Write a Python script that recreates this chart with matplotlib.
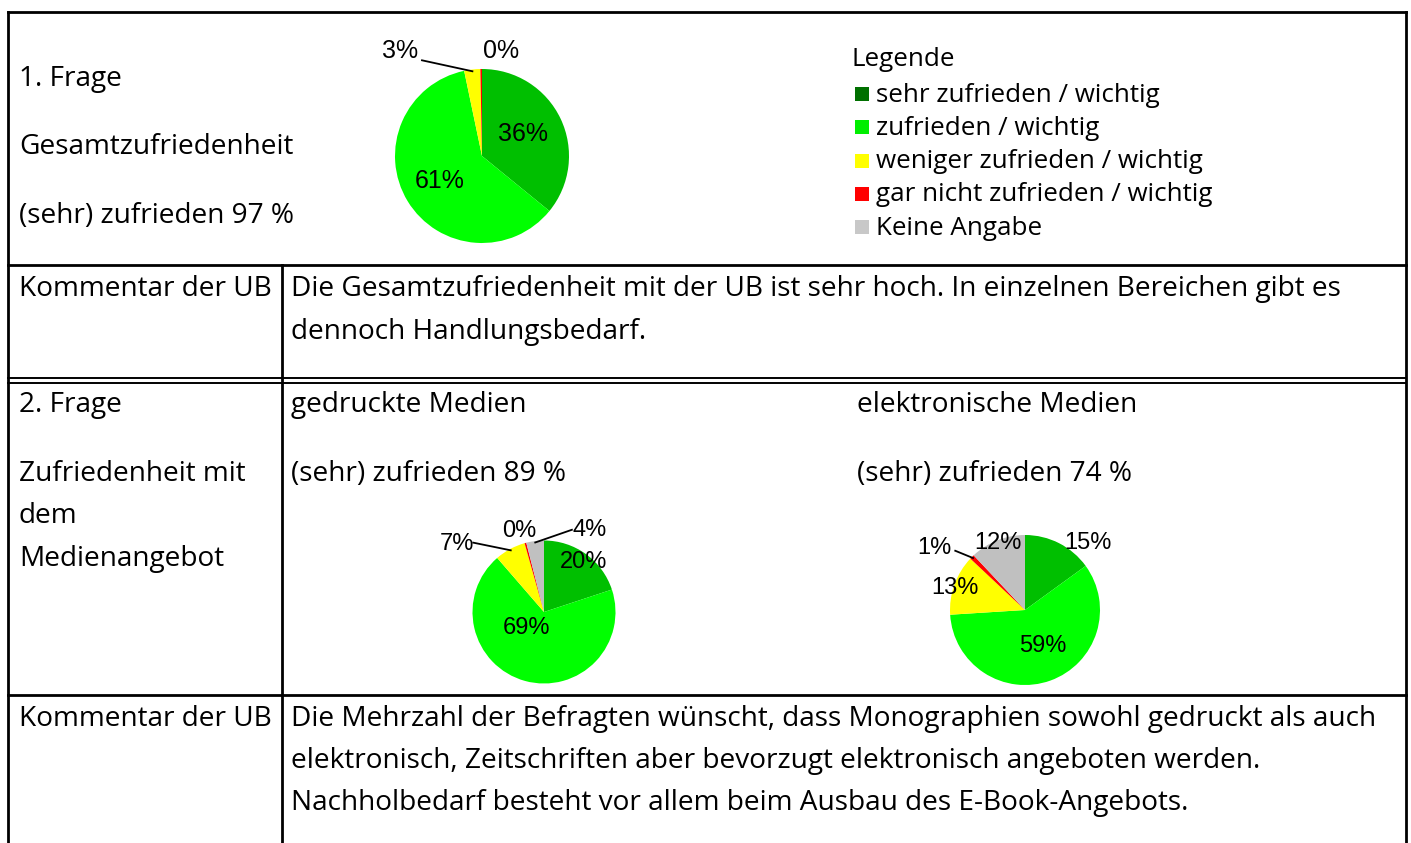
import numpy as np
import matplotlib
matplotlib.use('Agg')
import matplotlib.pyplot as plt

# Daten
kategorien = ['sehr zufrieden / wichtig', 'zufrieden / wichtig', 'weniger zufrieden / wichtig',
              'gar nicht zufrieden / wichtig', 'Keine Angabe']
farben = ['#00bf00', '#00ff00', '#ffff00', '#ff0000', '#c0c0c0']
legende_farben = ['#007000', '#00ee00', '#ffff00', '#ff0000', '#c8c8c8']

gesamt = [36, 61, 3, 0.3]
gedruckt = [20, 69, 7, 0.4, 4]
elektronisch = [15, 59, 13, 1, 12]

W, H = 1411, 843
fig = plt.figure(figsize=(W / 100, H / 100), dpi=100)
ax = fig.add_axes([0, 0, 1, 1])
ax.set_xlim(0, W)
ax.set_ylim(H, 0)
ax.axis('off')

schrift = 'Open Sans'
gr = 20.2
lw = 2.0

# Tabellenlinien
ax.plot([8, 1406], [12, 12], color='black', lw=lw)
ax.plot([8, 8], [12, H], color='black', lw=lw)
ax.plot([1406, 1406], [12, H], color='black', lw=lw)
ax.plot([8, 1406], [265, 265], color='black', lw=lw)
ax.plot([8, 1406], [377.5, 377.5], color='black', lw=1.4)
ax.plot([8, 1406], [382.5, 382.5], color='black', lw=1.4)
ax.plot([8, 1406], [695, 695], color='black', lw=lw)
ax.plot([282, 282], [265, H], color='black', lw=lw)


def txt(x, y, s, size=gr):
    # kleine Korrektur nach unten, damit die Zeilen wie im Original sitzen
    ax.text(x, y + 2, s, fontsize=size, family=schrift, va='center', ha='left', color='black')


txt(19, 77, '1. Frage')
txt(19, 145, 'Gesamtzufriedenheit')
txt(19, 214, '(sehr) zufrieden 97 %')

txt(19, 287, 'Kommentar der UB')
txt(291, 287, 'Die Gesamtzufriedenheit mit der UB ist sehr hoch. In einzelnen Bereichen gibt es')
txt(291, 330, 'dennoch Handlungsbedarf.')

txt(19, 403, '2. Frage')
txt(19, 472, 'Zufriedenheit mit')
txt(19, 514, 'dem')
txt(19, 557, 'Medienangebot')
txt(291, 403, 'gedruckte Medien')
txt(291, 472, '(sehr) zufrieden 89 %')
txt(857, 403, 'elektronische Medien')
txt(857, 472, '(sehr) zufrieden 74 %')

txt(19, 717, 'Kommentar der UB')
txt(291, 717, 'Die Mehrzahl der Befragten wünscht, dass Monographien sowohl gedruckt als auch')
txt(291, 759, 'elektronisch, Zeitschriften aber bevorzugt elektronisch angeboten werden.')
txt(291, 801, 'Nachholbedarf besteht vor allem beim Ausbau des E-Book-Angebots.')

# Legende
txt(852, 57, 'Legende', size=18.7)
for i, (k, c) in enumerate(zip(kategorien, legende_farben)):
    y = 94 + i * 33.3
    ax.add_patch(plt.Rectangle((855, y - 7), 14, 14, color=c, lw=0))
    txt(876, y - 1, k, size=18.7)


# Kreisdiagramme
def kreis(werte, cx, cy, r, lab_pos, leader, lab_gr):
    s = r * 1.25
    pax = fig.add_axes([(cx - s) / W, 1 - (cy + s) / H, 2 * s / W, 2 * s / H])
    wedges, _ = pax.pie(werte, colors=farben[:len(werte)], startangle=90, counterclock=False,
                        radius=1, wedgeprops=dict(linewidth=0))
    pax.set_xlim(-1.25, 1.25)
    pax.set_ylim(-1.25, 1.25)
    pax.set_aspect('equal')
    for i, w in enumerate(wedges):
        pct = werte[i] / sum(werte) * 100
        lx, ly = lab_pos[i]
        pax.text(lx, ly, '%.0f%%' % pct, fontsize=lab_gr, family='Liberation Sans',
                 ha='center', va='center', color='black')
        if leader[i] is not None:
            mid = np.deg2rad((w.theta1 + w.theta2) / 2)
            pax.plot([0.98 * np.cos(mid), leader[i][0]], [0.98 * np.sin(mid), leader[i][1]],
                     color='black', lw=1.3, clip_on=False)


kreis(gesamt, 482, 156, 87,
      [(0.47, 0.25), (-0.49, -0.29), (-0.94, 1.21), (0.22, 1.21)],
      [None, None, (-0.69, 1.10), None], 18)
kreis(gedruckt, 544, 612, 71.5,
      [(0.56, 0.70), (-0.24, -0.22), (-1.22, 0.95), (-0.34, 1.13), (0.64, 1.15)],
      [None, None, (-0.99, 0.97), None, (0.39, 1.15)], 17)
kreis(elektronisch, 1025, 610, 75,
      [(0.84, 0.89), (0.24, -0.48), (-0.93, 0.29), (-1.21, 0.83), (-0.36, 0.89)],
      [None, None, None, (-0.93, 0.79), None], 17)

fig.savefig('out.png', dpi=100)
